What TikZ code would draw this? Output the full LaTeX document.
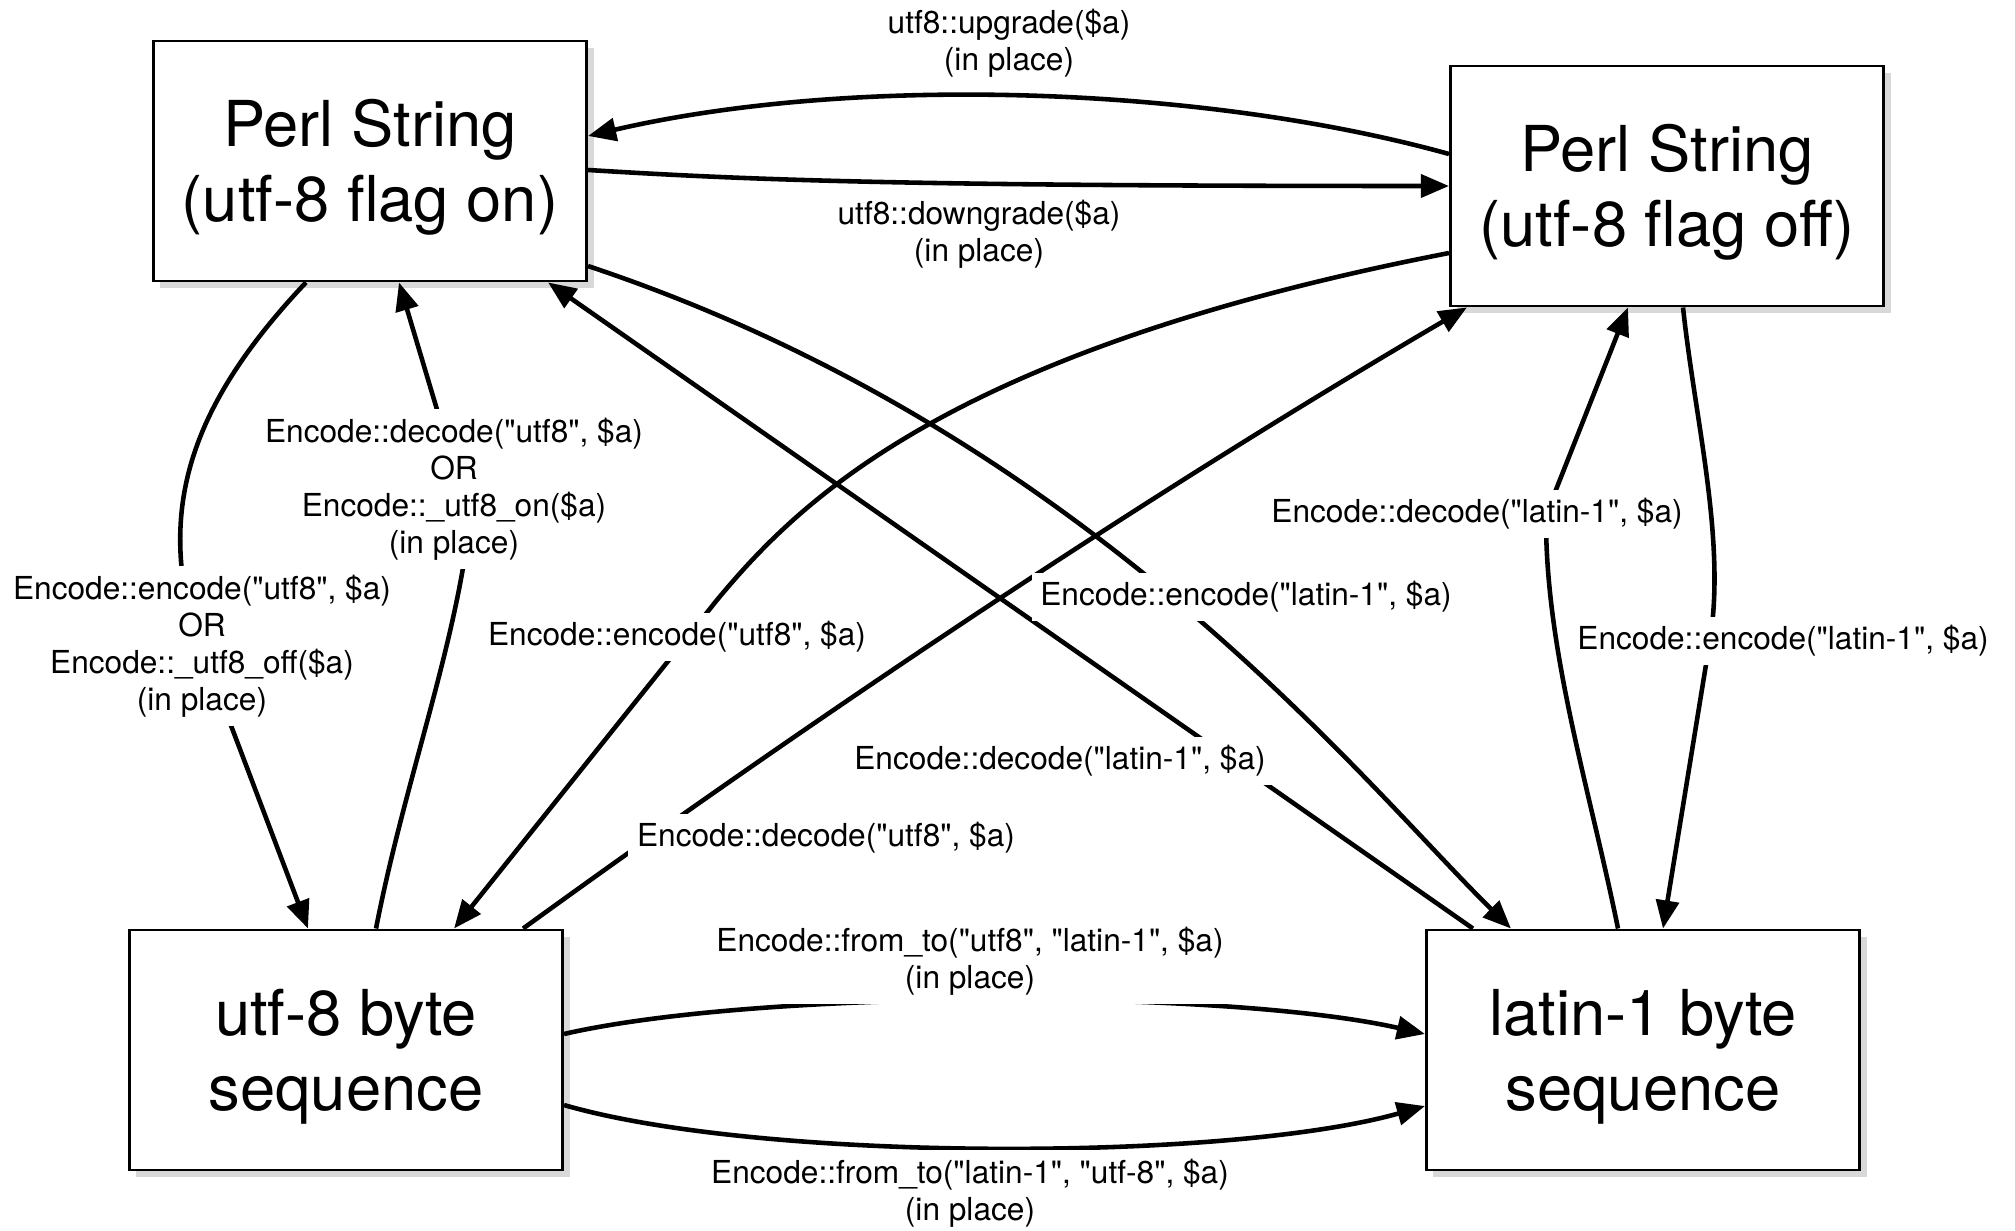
\documentclass[tikz,border=0pt]{standalone}
\usepackage{fontspec}
\setmainfont{TeX Gyre Heros}[Ligatures=TeXOff]
\usepackage{tikz}
\usetikzlibrary{arrows.meta, shadows}
\newcommand{\boxtop}{\rule{0pt}{17pt}}

\begin{document}
\begin{tikzpicture}[->,
			>={Triangle[length=8pt, width=6.5pt]},
			x=0.01cm, y=-0.01cm,
			line width=1.3pt,
			box/.style={draw, line width=0.8pt, fill=white, align=center,
				minimum width=4.33cm, minimum height=2.4cm,
				font=\fontsize{18}{21.5}\selectfont,
				drop shadow={shadow xshift=2pt, shadow yshift=-2pt, fill=black!30}},
			lbl/.style={fill=white, inner sep=2.5pt, align=center,
				font=\fontsize{9}{10.5}\selectfont}]
			\useasboundingbox (0,0) rectangle (2015,1231);
			\node[box] (on) at (370,161) {\boxtop Perl String\\(utf-8 flag on)};
			\node[box] (off) at (1667,186) {\boxtop Perl String\\(utf-8 flag off)};
			\node[box] (utf) at (346,1050) {\boxtop utf-8 byte\\sequence};
			\node[box] (lat) at (1643,1050) {\boxtop latin-1 byte\\sequence};
			\draw ([yshift=0.32cm]off.west) .. controls (1200,85) and (850,75) .. ([yshift=0.25cm]on.east);
			\draw ([yshift=-0.09cm]on.east) .. controls (750,180) and (900,186) .. (off.west);
			\draw ([xshift=-0.64cm]on.south) .. controls (195,400) and (160,500) .. (191,620) -- ([xshift=-0.38cm]utf.north);
			\draw ([xshift=0.30cm]utf.north) .. controls (405,780) and (455,650) .. (470,520) -- ([xshift=0.29cm]on.south);
			\draw ([yshift=-1.05cm]on.east) .. controls (1087,432) and (1361,781) .. ([xshift=-1.32cm]lat.north);
			\draw ([xshift=-1.70cm]lat.north) -- ([xshift=1.78cm]on.south);
			\draw ([yshift=-0.67cm]off.west) .. controls (950,350) and (800,500) .. (717,600) -- ([xshift=1.08cm]utf.north);
			\draw ([xshift=1.77cm]utf.north) .. controls (823,711) and (1150,493) .. ([xshift=-2.0cm]off.south);
			\draw ([xshift=0.16cm]off.south) .. controls (1695,420) and (1726,540) .. (1710,640) -- ([xshift=0.20cm]lat.north);
			\draw ([xshift=-0.25cm]lat.north) .. controls (1590,790) and (1545,650) .. (1546,515) -- ([xshift=-0.39cm]off.south);
			\draw ([yshift=0.16cm]utf.east) .. controls (760,989) and (1226,989) .. ([yshift=0.16cm]lat.west);
			\draw ([yshift=-0.55cm]utf.east) .. controls (760,1162) and (1226,1162) .. ([yshift=-0.56cm]lat.west);
			\node[lbl] (upg) at (1009,43) {utf8::upgrade(\$a)\\(in place)};
			\node[lbl] (dng) at (979,234) {utf8::downgrade(\$a)\\(in place)};
			\node[lbl] (encoff) at (202,646) {Encode::encode("utf8", \$a)\\OR\\Encode::\_utf8\_off(\$a)\\(in place)};
			\node[lbl] (decon) at (454,489) {Encode::decode("utf8", \$a)\\OR\\Encode::\_utf8\_on(\$a)\\(in place)};
			\node[lbl] (encutf) at (677,637) {Encode::encode("utf8", \$a)};
			\node[lbl] (decutf) at (826,838) {Encode::decode("utf8", \$a)};
			\node[lbl] (enclat) at (1246,597) {Encode::encode("latin-1", \$a)};
			\node[lbl] (declat) at (1060,761) {Encode::decode("latin-1", \$a)};
			\node[lbl] (decoff) at (1477,514) {Encode::decode("latin-1", \$a)};
			\node[lbl] (encl) at (1783,641) {Encode::encode("latin-1", \$a)};
			\node[lbl] (ftone) at (970,961) {Encode::from\_to("utf8", "latin-1", \$a)\\(in place)};
			\node[lbl] (fttwo) at (970,1193) {Encode::from\_to("latin-1", "utf-8", \$a)\\(in place)};
		\end{tikzpicture}
\end{document}
